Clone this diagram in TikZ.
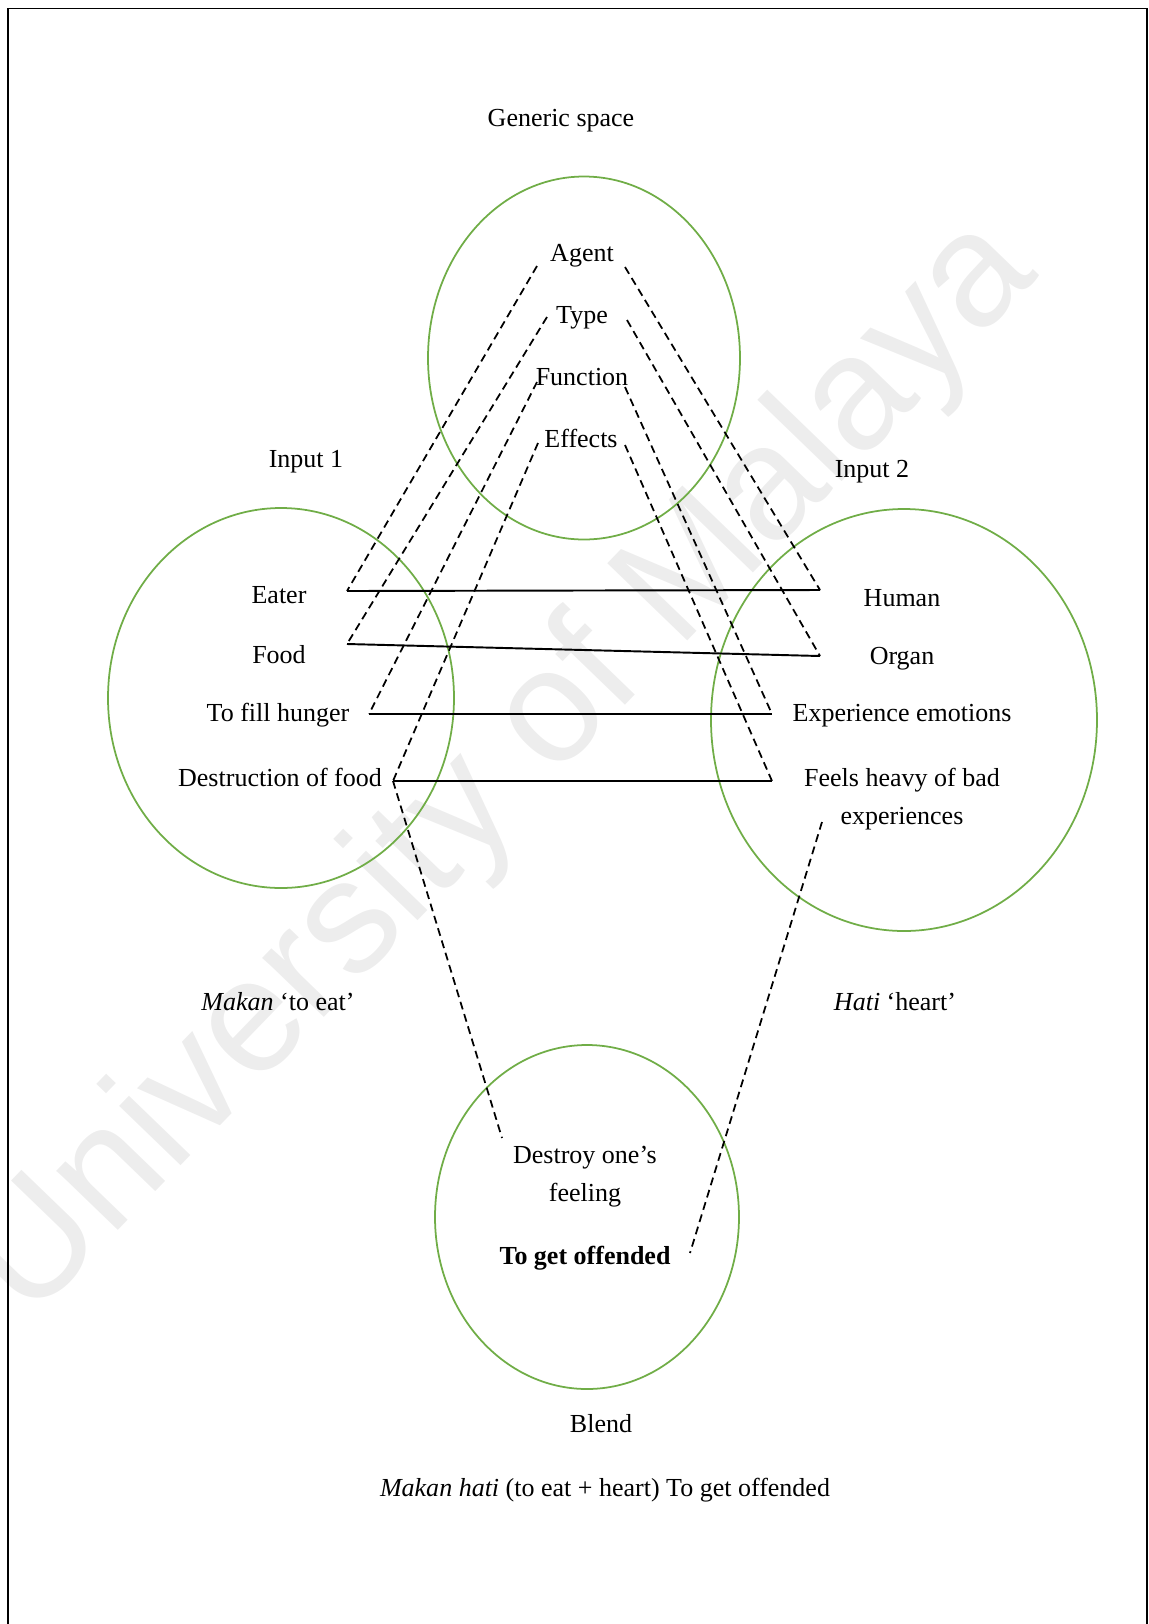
\documentclass[tikz,border=0pt]{standalone}
\usepackage{fontspec}
\setmainfont{Liberation Serif}
\setsansfont{Liberation Sans}
\definecolor{ringgreen}{RGB}{112,173,71}
\tikzset{
  txt/.style={font=\fontsize{14.8}{21.5}\selectfont, inner sep=0pt, align=center},
  ring/.style={ringgreen, line width=1pt},
  maplink/.style={line width=1pt, dash pattern=on 4.5pt off 2.8pt},
  pairlink/.style={line width=1.1pt},
}
\begin{document}
\begin{tikzpicture}[x=0.02cm, y=-0.02cm]
	\useasboundingbox (0,0) rectangle (1149,1624);
	%watermark
	\node[font=\sffamily\fontsize{92}{92}\selectfont, text=black!7, rotate=46] (mark) at (505,770) {University of Malaya};
	%frame
	\draw[line width=1.1pt] (8,1624) -- (8,8.5) -- (1147,8.5) -- (1147,1624);
	%circles
	\draw[ring] (584,358) ellipse [x radius=156, y radius=181.5];
	\draw[ring] (281,698) ellipse [x radius=173, y radius=190];
	\draw[ring] (904,720) ellipse [x radius=193, y radius=211];
	\draw[ring] (587,1217) ellipse [x radius=152, y radius=172];
	%generic space
	\node[txt] (genlabel) at (561,121) {Generic space};
	\node[txt] (agent) at (582,256) {Agent};
	\node[txt] (type) at (582,318) {Type};
	\node[txt] (function) at (582,377) {Function};
	\node[txt] (effects) at (581,438) {Effects};
	%input 1
	\node[txt] (inlabelA) at (306,462) {Input 1};
	\node[txt] (eater) at (279,595) {Eater};
	\node[txt] (food) at (279,655) {Food};
	\node[txt] (hunger) at (278,715) {To fill hunger};
	\node[txt] (destruction) at (280,777) {Destruction of food};
	\node[txt] (makan) at (278,1002) {\textit{Makan} `to eat'};
	%input 2
	\node[txt] (inlabelB) at (872,472) {Input 2};
	\node[txt] (human) at (902,598) {Human};
	\node[txt] (organ) at (902,659) {Organ};
	\node[txt] (emotions) at (902,716) {Experience emotions};
	\node[txt] (feels) at (902,799) {Feels heavy of bad\\experiences};
	\node[txt] (hati) at (895,1002) {\textit{Hati} `heart'};
	%blend
	\node[txt] (destroy) at (585,1177) {Destroy one's\\feeling};
	\node[txt, font=\fontsize{14.8}{21.5}\selectfont\bfseries] (offended) at (585,1258) {To get offended};
	\node[txt] (blendlabel) at (601,1424) {Blend};
	\node[txt] (summary) at (605,1490) {\textit{Makan hati} (to eat + heart) To get offended};
	%end points
	\coordinate (agentL) at (537,266);
	\coordinate (agentR) at (625,267);
	\coordinate (typeL) at (547,317);
	\coordinate (typeR) at (627,320);
	\coordinate (functionL) at (537,382);
	\coordinate (functionR) at (625,387);
	\coordinate (effectsL) at (538,443);
	\coordinate (effectsR) at (625,445);
	\coordinate (eaterR) at (347,591);
	\coordinate (foodR) at (347,644);
	\coordinate (hungerR) at (369,714);
	\coordinate (destructionR) at (393,781);
	\coordinate (humanL) at (820,590);
	\coordinate (organL) at (820,656);
	\coordinate (emotionsL) at (772,714);
	\coordinate (feelsL) at (772,781);
	\coordinate (feelsB) at (822,822);
	\coordinate (destroyT) at (502,1138);
	\coordinate (offendedR) at (690,1253);
	%cross-space
	\draw[pairlink] (eaterR) -- (humanL);
	\draw[pairlink] (foodR) -- (organL);
	\draw[pairlink] (hungerR) -- (emotionsL);
	\draw[pairlink] (destructionR) -- (feelsL);
	%generic links
	\draw[maplink] (agentL) -- (eaterR);
	\draw[maplink] (typeL) -- (foodR);
	\draw[maplink] (functionL) -- (hungerR);
	\draw[maplink] (effectsL) -- (destructionR);
	\draw[maplink] (agentR) -- (humanL);
	\draw[maplink] (typeR) -- (organL);
	\draw[maplink] (functionR) -- (emotionsL);
	\draw[maplink] (effectsR) -- (feelsL);
	%blend links
	\draw[maplink] (destructionR) -- (destroyT);
	\draw[maplink] (feelsB) -- (offendedR);
\end{tikzpicture}
\end{document}
